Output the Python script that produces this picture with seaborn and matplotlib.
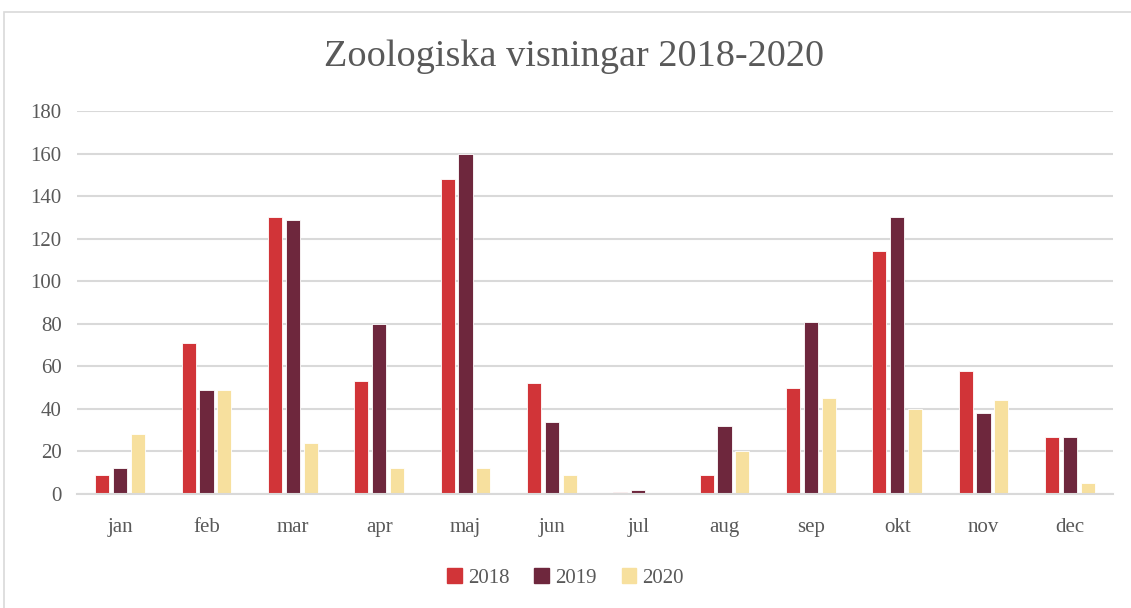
import matplotlib
matplotlib.use('Agg')
import matplotlib.pyplot as plt
import seaborn as sns
import pandas as pd
from matplotlib.patches import Rectangle

months = ['jan', 'feb', 'mar', 'apr', 'maj', 'jun', 'jul', 'aug', 'sep', 'okt', 'nov', 'dec']
years = ['2018', '2019', '2020']
v2018 = [9, 71, 130, 53, 148, 52, 1, 9, 50, 114, 58, 27]
v2019 = [12, 49, 129, 80, 160, 34, 2, 32, 81, 130, 38, 27]
v2020 = [28, 49, 24, 12, 12, 9, 0, 20, 45, 40, 44, 5]
colors = ['#D13438', '#6E273D', '#F7E09E']

# long table for seaborn
rows = []
for year, vals in zip(years, [v2018, v2019, v2020]):
    for m, v in zip(months, vals):
        rows.append({'month': m, 'year': year, 'value': v})
df = pd.DataFrame(rows)

sns.set_style('white')
plt.rcParams['font.family'] = ['Liberation Serif', 'DejaVu Serif']
text_col = '#595959'
grid_col = '#D9D9D9'

fig = plt.figure(figsize=(11.31, 6.08), dpi=100)
ax = fig.add_axes([77 / 1131, 1 - 494 / 608, (1113 - 77) / 1131, (494 - 111) / 608])

sns.barplot(data=df, x='month', y='value', hue='year', order=months, hue_order=years,
            palette=colors, saturation=1, width=0.62, gap=0.2, edgecolor='white',
            linewidth=0.6, ax=ax, legend=False)

ax.set_ylim(0, 180)
ax.set_yticks(range(0, 181, 20))
ax.set_xlim(-0.5, len(months) - 0.5)
ax.yaxis.grid(True, color=grid_col, linewidth=1.5)
ax.set_axisbelow(True)
for side in ['top', 'right', 'left']:
    ax.spines[side].set_visible(False)
ax.spines['bottom'].set_color(grid_col)
ax.spines['bottom'].set_linewidth(1.5)
ax.tick_params(axis='both', length=0, labelsize=15, colors=text_col)
ax.tick_params(axis='y', pad=11)
ax.tick_params(axis='x', pad=17)
ax.set_xlabel('')
ax.set_ylabel('')

fig.text(0.508, 1 - 57 / 608, 'Zoologiska visningar 2018-2020', ha='center', va='center',
         fontsize=27.5, color=text_col)

handles = [Rectangle((0, 0), 1, 1, color=c) for c in colors]
fig.legend(handles, years, loc='center', bbox_to_anchor=(0.5, 1 - 578 / 608), ncol=3,
           frameon=False, fontsize=15, labelcolor=text_col, handlelength=0.7,
           handleheight=0.7, handletextpad=0.3, columnspacing=1.2)

# outer chart frame
fig.patches.append(Rectangle((4 / 1131, -0.01), 1.0, 1 - 12 / 608 + 0.01,
                             transform=fig.transFigure, fill=False,
                             edgecolor=grid_col, linewidth=1.2))

fig.savefig('out.png', dpi=100)
